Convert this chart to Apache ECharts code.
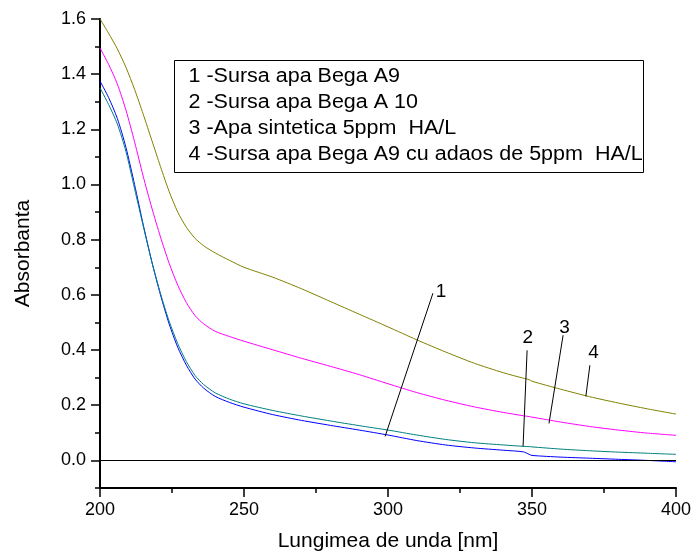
<!DOCTYPE html>
<html>
<head>
<meta charset="utf-8">
<script src="https://cdn.jsdelivr.net/npm/echarts@6/dist/echarts.min.js"></script>
<style>html,body{margin:0;padding:0;background:#fff}#c{width:691px;height:553px}</style>
</head>
<body>
<div id="c"></div>
<script>
// Wavelength (nm)
var wavelength = [200, 203, 206, 209, 212, 215, 218, 221, 224, 227, 230, 233, 236, 240, 245, 250, 260, 270, 280, 290, 300, 310, 320, 330, 340, 347, 349, 350, 360, 370, 380, 390, 400];
// 1 - Sursa apa Bega A9 (blue)
var s1 = [1.375, 1.315, 1.24, 1.135, 1.0, 0.855, 0.72, 0.60, 0.495, 0.41, 0.345, 0.295, 0.262, 0.232, 0.210, 0.193, 0.166, 0.145, 0.127, 0.110, 0.092, 0.072, 0.056, 0.045, 0.037, 0.031, 0.022, 0.018, 0.012, 0.008, 0.004, 0.000, -0.005];
// 2 - Sursa apa Bega A 10 (teal)
var s2 = [1.35, 1.29, 1.22, 1.12, 0.985, 0.85, 0.72, 0.605, 0.505, 0.423, 0.358, 0.308, 0.275, 0.245, 0.222, 0.205, 0.181, 0.161, 0.143, 0.126, 0.110, 0.092, 0.076, 0.064, 0.056, 0.051, 0.050, 0.049, 0.041, 0.035, 0.030, 0.026, 0.022];
// 3 - Apa sintetica 5ppm HA/L (magenta)
var s3 = [1.495, 1.435, 1.365, 1.27, 1.155, 1.03, 0.915, 0.81, 0.715, 0.635, 0.572, 0.525, 0.495, 0.468, 0.449, 0.432, 0.401, 0.370, 0.341, 0.311, 0.278, 0.246, 0.218, 0.194, 0.174, 0.162, 0.159, 0.157, 0.139, 0.123, 0.110, 0.099, 0.091];
// 4 - Sursa apa Bega A9 cu adaos de 5ppm HA/L (olive)
var s4 = [1.60, 1.548, 1.492, 1.425, 1.345, 1.255, 1.16, 1.065, 0.975, 0.90, 0.845, 0.805, 0.778, 0.752, 0.725, 0.700, 0.664, 0.622, 0.576, 0.530, 0.484, 0.437, 0.393, 0.352, 0.318, 0.298, 0.293, 0.287, 0.258, 0.231, 0.208, 0.187, 0.168];

var legendLines = ["1 -Sursa apa Bega A9", "2 -Sursa apa Bega A 10", "3 -Apa sintetica 5ppm  HA/L", "4 -Sursa apa Bega A9 cu adaos de 5ppm  HA/L"];
var xTitle = "Lungimea de unda [nm]";
var yTitle = "Absorbanta";
var yMajorTicks = [0.0, 0.2, 0.4, 0.6, 0.8, 1.0, 1.2, 1.4, 1.6];
var yMinorTicks = [-0.1, 0.1, 0.3, 0.5, 0.7, 0.9, 1.1, 1.3, 1.5];
// leader lines [x1, y1, x2, y2]
var leaderLines = [[299.0, 0.087, 315.6, 0.606], [346.9, 0.051, 348.3, 0.399], [355.9, 0.134, 360.8, 0.454], [368.7, 0.232, 370.1, 0.345]];
// leader labels [x, y, text]
var leaderLabels = [[318.4, 0.613, "1"], [348.5, 0.444, "2"], [361.3, 0.481, "3"], [371.4, 0.390, "4"]];

function pairs(ys) { return wavelength.map(function (x, i) { return [x, ys[i]]; }); }

var FONT = "Liberation Sans, Arial, sans-serif";
var chart = echarts.init(document.getElementById('c'), null, {renderer: 'canvas'});

var baseSeries = function (name, ys, color) {
  return {
    name: name, type: 'line', data: pairs(ys), symbol: 'none', smooth: 0.25,
    lineStyle: {color: color, width: 1}, itemStyle: {color: color}, z: 3, silent: true
  };
};

var series = [
  baseSeries('1', s1, '#0000ff'),
  baseSeries('2', s2, '#008080'),
  baseSeries('3', s3, '#ff00ff'),
  baseSeries('4', s4, '#808000')
];
series[0].markLine = {
  silent: true, symbol: ['none', 'none'], animation: false,
  label: {show: false},
  lineStyle: {color: '#000', width: 1, type: 'solid'},
  data: [{yAxis: 0}].concat(leaderLines.map(function (l) {
    return [{coord: [l[0], l[1]]}, {coord: [l[2], l[3]]}];
  }))
};
series[0].markPoint = {
  silent: true, animation: false, symbol: 'circle', symbolSize: 1,
  itemStyle: {color: 'rgba(0,0,0,0)'},
  label: {show: true, position: 'inside', formatter: '{b}', color: '#000', fontSize: 19, fontFamily: FONT},
  data: leaderLabels.map(function (l) { return {coord: [l[0], l[1]], name: l[2]}; })
};

var legendGroup = {
  type: 'group', left: 174, top: 60, silent: true,
  children: [{type: 'rect', shape: {x: 0, y: 0, width: 469, height: 112}, style: {fill: '#fff', stroke: '#000', lineWidth: 1}}]
    .concat(legendLines.map(function (t, i) {
      return {type: 'text', x: 14, y: 16 + i * 26, scaleX: 1.075,
        style: {text: t, fill: '#000', font: '20px ' + FONT, verticalAlign: 'middle'}};
    }))
};

chart.setOption({
  animation: false,
  backgroundColor: '#fff',
  grid: {left: 100, right: 15, top: 19, bottom: 65, containLabel: false, outerBoundsMode: 'none'},
  xAxis: {
    type: 'value', min: 200, max: 400, interval: 50,
    name: xTitle, nameLocation: 'middle', nameGap: 43,
    nameTextStyle: {color: '#000', fontSize: 21, fontFamily: FONT},
    axisLine: {show: true, onZero: false, lineStyle: {color: '#000', width: 2}},
    axisTick: {show: true, inside: false, length: 9, lineStyle: {color: '#000', width: 1.5}},
    minorTick: {show: true, splitNumber: 2, length: 5, lineStyle: {color: '#000', width: 1.5}},
    splitLine: {show: false}, minorSplitLine: {show: false},
    axisLabel: {color: '#000', fontSize: 18, fontFamily: FONT, margin: 13}
  },
  yAxis: [{
    type: 'value', min: -0.1, max: 1.6,
    name: yTitle, nameLocation: 'middle', nameGap: 66, nameRotate: 90,
    nameTextStyle: {color: '#000', fontSize: 21, fontFamily: FONT},
    axisLine: {show: true, onZero: false, lineStyle: {color: '#000', width: 2}},
    axisTick: {show: true, inside: false, length: 9, customValues: yMajorTicks, lineStyle: {color: '#000', width: 1.5}},
    axisLabel: {color: '#000', fontSize: 18, fontFamily: FONT, margin: 14, customValues: yMajorTicks,
      formatter: function (v) { return v.toFixed(1); }},
    splitLine: {show: false}
  }, {
    type: 'value', min: -0.1, max: 1.6, position: 'left', offset: 0,
    axisLine: {show: false},
    axisTick: {show: true, inside: false, length: 5, customValues: yMinorTicks, lineStyle: {color: '#000', width: 1.5}},
    axisLabel: {show: false},
    splitLine: {show: false}
  }],
  graphic: [legendGroup],
  series: series
});
</script>
</body>
</html>
